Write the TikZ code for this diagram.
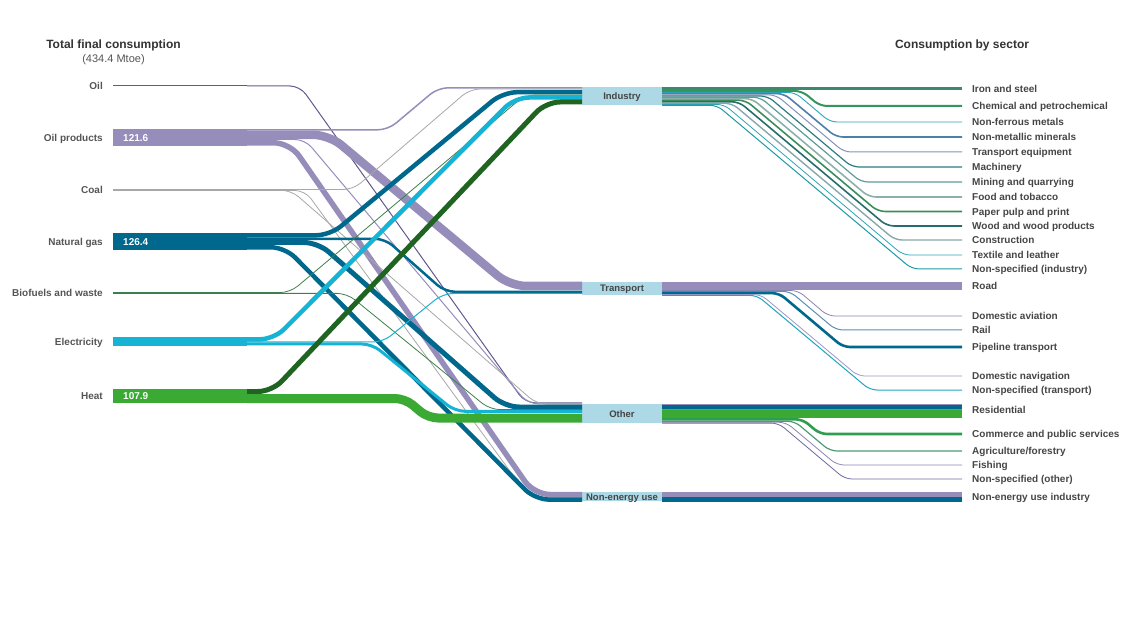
\documentclass[tikz,border=0pt]{standalone}
\usepackage{fontspec}
\setmainfont{Liberation Sans}
\usepackage{tikz}
\usetikzlibrary{positioning}

\definecolor{oilc}{HTML}{5F5A8C}
\definecolor{oilpc}{HTML}{968DBA}
\definecolor{coalc}{HTML}{A8A8A8}
\definecolor{gasc}{HTML}{00688C}
\definecolor{bioc}{HTML}{3D7F4D}
\definecolor{elecc}{HTML}{17B3D5}
\definecolor{heatc}{HTML}{3AAA35}
\definecolor{heatdk}{HTML}{1F6421}
\definecolor{boxc}{HTML}{ADD8E6}
\definecolor{lblc}{HTML}{555555}
\definecolor{secc}{HTML}{454545}
\definecolor{ironc}{HTML}{3B8A70}
\definecolor{chemc}{HTML}{35955A}
\definecolor{nferc}{HTML}{2AA5B8}
\definecolor{nmetc}{HTML}{4D7FA8}
\definecolor{treqc}{HTML}{8791B5}
\definecolor{machc}{HTML}{2C7B82}
\definecolor{minec}{HTML}{5E9C98}
\definecolor{foodc}{HTML}{8DB0AA}
\definecolor{paperc}{HTML}{3B8E5C}
\definecolor{woodc}{HTML}{276D6D}
\definecolor{constc}{HTML}{88A7AB}
\definecolor{textc}{HTML}{2BA4B4}
\definecolor{nsindc}{HTML}{1E99A6}
\definecolor{domavic}{HTML}{8A85B2}
\definecolor{railc}{HTML}{5A8EB2}
\definecolor{domnavc}{HTML}{9E98C4}
\definecolor{nstransc}{HTML}{1FA6C2}
\definecolor{commc}{HTML}{2E9E4E}
\definecolor{agric}{HTML}{4E9B72}
\definecolor{nsothc}{HTML}{6E699C}

\tikzstyle{heading} = [font=\bfseries\fontsize{12}{14}\selectfont, text=black!80, inner sep=0pt]
\tikzstyle{srclabel} = [font=\bfseries\fontsize{10}{12}\selectfont, text=lblc, inner sep=0pt, text height=7.2pt, text depth=0pt]
\tikzstyle{seclabel} = [anchor=west, font=\bfseries\fontsize{10}{12}\selectfont, text=secc, inner sep=0pt, text height=7.2pt, text depth=0pt]
\tikzstyle{bar} = [rectangle, anchor=north west, minimum width=134pt, inner sep=0pt, outer sep=0pt]
\tikzstyle{barval} = [font=\bfseries\fontsize{10}{12}\selectfont, text=white, inner sep=0pt, text height=7.2pt, text depth=0pt]
\tikzstyle{sector} = [rectangle, anchor=north west, fill=boxc, minimum width=80pt, inner sep=0pt, outer sep=0pt, text height=7pt, text depth=0pt, font=\bfseries\fontsize{9.5}{11}\selectfont, text=secc]
\tikzstyle{flowline} = [line cap=butt, rounded corners=10pt]
\tikzstyle{fanline} = [line cap=butt, rounded corners=7pt]

\begin{document}
\begin{tikzpicture}[x=1pt, y=-1pt]
\useasboundingbox (0,0) rectangle (1132,617);

\node (tfc) [heading] at (113.5,45) {Total final consumption};
\node (mtoe) [font=\fontsize{11}{13}\selectfont, text=lblc, inner sep=0pt, below=4pt of tfc] {(434.4 Mtoe)};
\node (cbs) [heading] at (962,45) {Consumption by sector};

% sources
\node (oilbar) [bar, fill=oilc, minimum height=1pt] at (113,85.5) {};
\node (opbar) [bar, fill=oilpc, minimum height=17pt] at (113,129) {};
\node (coalbar) [bar, fill=coalc, minimum height=1.2pt] at (113,189.4) {};
\node (gasbar) [bar, fill=gasc, minimum height=17pt] at (113,233) {};
\node (biobar) [bar, fill=bioc, minimum height=1.5pt] at (113,292.3) {};
\node (elecbar) [bar, fill=elecc, minimum height=9pt] at (113,337) {};
\node (heatbar) [bar, fill=heatc, minimum height=14pt] at (113,389) {};

\node (oil) [srclabel, left=10pt of oilbar] {Oil};
\node (oilp) [srclabel, left=10pt of opbar] {Oil products};
\node (coal) [srclabel, left=10pt of coalbar] {Coal};
\node (gas) [srclabel, left=10pt of gasbar] {Natural gas};
\node (bio) [srclabel, left=10pt of biobar] {Biofuels and waste};
\node (elec) [srclabel, left=10pt of elecbar] {Electricity};
\node (heat) [srclabel, left=10pt of heatbar] {Heat};

\node (opval) [barval, anchor=west] at ([xshift=10pt]opbar.west) {121.6};
\node (gasval) [barval, anchor=west] at ([xshift=10pt]gasbar.west) {126.4};
\node (heatval) [barval, anchor=west] at ([xshift=10pt]heatbar.west) {107.9};

% sectors
\node (ind) [sector, minimum height=18pt] at (582,87) {Industry};
\node (trans) [sector, minimum height=13pt] at (582,282) {Transport};
\node (other) [sector, minimum height=19pt] at (582,404) {Other};
\node (neu) [sector, minimum height=9pt] at (582,492) {Non-energy use};

% flows to sectors
\draw [flowline, oilc, line width=1pt] (oilbar.east) -- (300,86) -- (525,402.8) -- ([yshift=1.2pt]other.north west);

\draw [flowline, oilpc, line width=1.5pt] ([yshift=-0.8pt]opbar.north east) -- (388,129.8) -- (438,87.8) -- ([yshift=-0.8pt]ind.north west);
\draw [flowline, oilpc, line width=8.5pt, rounded corners=16pt] ([yshift=-5.8pt]opbar.north east) -- (329,134.8) -- (510,286) -- ([yshift=-4pt]trans.north west);
\draw [flowline, oilpc, line width=1pt] ([yshift=-10.5pt]opbar.north east) -- (305,139.5) -- (528,403.8) -- ([yshift=0.2pt]other.north west);
\draw [flowline, oilpc, line width=5.5pt, rounded corners=16pt] ([yshift=-13.8pt]opbar.north east) -- (290,142.8) -- (534,494.5) -- ([yshift=-2.5pt]neu.north west);

\draw [flowline, coalc, line width=0.8pt] ([yshift=-0.2pt]coalbar.north east) -- (353,189.6) -- (470,89) -- ([yshift=-2pt]ind.north west);
\draw [flowline, coalc, line width=0.8pt] ([yshift=-0.8pt]coalbar.north east) -- (291,190.2) -- (537,404.2) -- ([yshift=-0.2pt]other.north west);
\draw [flowline, coalc, line width=0.8pt] ([yshift=-1.1pt]coalbar.north east) -- (305,190.5) -- (529,497.2) -- ([yshift=-5.2pt]neu.north west);

\draw [flowline, gasc, line width=4.5pt, rounded corners=14pt] ([yshift=-2.3pt]gasbar.north east) -- (330,235.3) -- (503,92.2) -- ([yshift=-5.2pt]ind.north west);
\draw [flowline, gasc, line width=2.5pt] ([yshift=-5.8pt]gasbar.north east) -- (385,238.8) -- (445,291.8) -- ([yshift=-9.8pt]trans.north west);
\draw [flowline, gasc, line width=5pt, rounded corners=14pt] ([yshift=-9.5pt]gasbar.north east) -- (318,242.5) -- (505,407) -- ([yshift=-3pt]other.north west);
\draw [flowline, gasc, line width=4.5pt, rounded corners=14pt] ([yshift=-14.3pt]gasbar.north east) -- (285,247.3) -- (535,499.6) -- ([yshift=-7.6pt]neu.north west);

\draw [flowline, bioc, line width=0.8pt] ([yshift=-0.3pt]biobar.north east) -- (290,292.6) -- (525,95) -- ([yshift=-8pt]ind.north west);
\draw [flowline, bioc, line width=0.8pt] ([yshift=-1.1pt]biobar.north east) -- (347,293.4) -- (490,409.6) -- ([yshift=-5.6pt]other.north west);

\draw [flowline, elecc, line width=4.5pt, rounded corners=14pt] ([yshift=-2.3pt]elecbar.north east) -- (274,339.3) -- (515,97.5) -- ([yshift=-10.5pt]ind.north west);
\draw [flowline, elecc, line width=1pt] ([yshift=-5pt]elecbar.north east) -- (383,342) -- (443,293.5) -- ([yshift=-11.5pt]trans.north west);
\draw [flowline, elecc, line width=3pt] ([yshift=-7pt]elecbar.north east) -- (372,344) -- (455,411.3) -- ([yshift=-7.3pt]other.north west);

\draw [flowline, heatdk, line width=5pt, rounded corners=14pt] ([yshift=-2.5pt]heatbar.north east) -- (272,391.5) -- (546,102) -- ([yshift=-15pt]ind.north west);
\draw [flowline, heatc, line width=9pt] ([yshift=-9.5pt]heatbar.north east) -- (405,398.5) -- (428,418) -- ([yshift=-14pt]other.north west);

% sector labels
\node (iron) [seclabel] at (972,88.5) {Iron and steel};
\node (chem) [seclabel] at (972,106) {Chemical and petrochemical};
\node (nfer) [seclabel] at (972,122) {Non-ferrous metals};
\node (nmet) [seclabel] at (972,137) {Non-metallic minerals};
\node (treq) [seclabel] at (972,152) {Transport equipment};
\node (mach) [seclabel] at (972,167) {Machinery};
\node (mine) [seclabel] at (972,182) {Mining and quarrying};
\node (food) [seclabel] at (972,197) {Food and tobacco};
\node (paper) [seclabel] at (972,211.5) {Paper pulp and print};
\node (wood) [seclabel] at (972,226) {Wood and wood products};
\node (const) [seclabel] at (972,240) {Construction};
\node (text) [seclabel] at (972,255) {Textile and leather};
\node (nsind) [seclabel] at (972,269) {Non-specified (industry)};
\node (road) [seclabel] at (972,286) {Road};
\node (domavi) [seclabel] at (972,316) {Domestic aviation};
\node (rail) [seclabel] at (972,330) {Rail};
\node (pipe) [seclabel] at (972,347) {Pipeline transport};
\node (domnav) [seclabel] at (972,376) {Domestic navigation};
\node (nstrans) [seclabel] at (972,390) {Non-specified (transport)};
\node (resid) [seclabel] at (972,410) {Residential};
\node (comm) [seclabel] at (972,434) {Commerce and public services};
\node (agri) [seclabel] at (972,451) {Agriculture/forestry};
\node (fish) [seclabel] at (972,465) {Fishing};
\node (nsoth) [seclabel] at (972,479) {Non-specified (other)};
\node (neuind) [seclabel] at (972,497) {Non-energy use industry};

% industry
\draw [fanline, ironc, line width=3pt] ([yshift=-1.5pt]ind.north east) -- ([xshift=-10pt]iron.west);
\draw [fanline, chemc, line width=2pt] ([yshift=-4pt]ind.north east) -- (802,91) -- (820,106) -- ([xshift=-10pt]chem.west);
\draw [fanline, nferc, line width=0.9pt] ([yshift=-5.4pt]ind.north east) -- (795,92.4) -- (830,122) -- ([xshift=-10pt]nfer.west);
\draw [fanline, nmetc, line width=1.6pt] ([yshift=-6.6pt]ind.north east) -- (784,93.6) -- (836,137) -- ([xshift=-10pt]nmet.west);
\draw [fanline, treqc, line width=1pt] ([yshift=-7.9pt]ind.north east) -- (776,94.9) -- (844,152) -- ([xshift=-10pt]treq.west);
\draw [fanline, machc, line width=1.2pt] ([yshift=-9pt]ind.north east) -- (767.5,96) -- (852,167) -- ([xshift=-10pt]mach.west);
\draw [fanline, minec, line width=1.2pt] ([yshift=-10.2pt]ind.north east) -- (760,97.2) -- (861,182) -- ([xshift=-10pt]mine.west);
\draw [fanline, foodc, line width=1.6pt] ([yshift=-11.6pt]ind.north east) -- (752,98.6) -- (869,197) -- ([xshift=-10pt]food.west);
\draw [fanline, paperc, line width=1.6pt] ([yshift=-13.2pt]ind.north east) -- (745.5,100.2) -- (878,211.5) -- ([xshift=-10pt]paper.west);
\draw [fanline, woodc, line width=1.6pt] ([yshift=-14.8pt]ind.north east) -- (739,101.8) -- (887,226) -- ([xshift=-10pt]wood.west);
\draw [fanline, constc, line width=1.4pt] ([yshift=-16.3pt]ind.north east) -- (732,103.3) -- (895,240) -- ([xshift=-10pt]const.west);
\draw [fanline, textc, line width=0.8pt] ([yshift=-17.4pt]ind.north east) -- (724,104.4) -- (903,255) -- ([xshift=-10pt]text.west);
\draw [fanline, nsindc, line width=1pt] ([yshift=-18.3pt]ind.north east) -- (717,105.3) -- (912,269) -- ([xshift=-10pt]nsind.west);

% transport
\draw [fanline, oilpc, line width=8pt] ([yshift=-4pt]trans.north east) -- ([xshift=-10pt]road.west);
\draw [fanline, domavic, line width=0.8pt] ([yshift=-8.5pt]trans.north east) -- (798,290.5) -- (828,316) -- ([xshift=-10pt]domavi.west);
\draw [fanline, railc, line width=1pt] ([yshift=-9.4pt]trans.north east) -- (790,291.4) -- (836,330) -- ([xshift=-10pt]rail.west);
\draw [fanline, gasc, line width=2.6pt] ([yshift=-11.1pt]trans.north east) -- (779,293.1) -- (843,347) -- ([xshift=-10pt]pipe.west);
\draw [fanline, domnavc, line width=0.8pt] ([yshift=-12.6pt]trans.north east) -- (761,294.6) -- (858,376) -- ([xshift=-10pt]domnav.west);
\draw [fanline, nstransc, line width=1pt] ([yshift=-13.4pt]trans.north east) -- (757,295.4) -- (870,390) -- ([xshift=-10pt]nstrans.west);

% other
\draw [fanline, oilpc, line width=1.4pt] ([yshift=-0.7pt]other.north east) -- +(300,0);
\draw [fanline, gasc, line width=3.6pt] ([yshift=-3.2pt]other.north east) -- +(300,0);
\draw [fanline, elecc, line width=1pt] ([yshift=-5.5pt]other.north east) -- +(300,0);
\draw [fanline, heatc, line width=8pt] ([yshift=-10pt]other.north east) -- +(300,0);
\draw [fanline, commc, line width=2.6pt] ([yshift=-15.3pt]other.north east) -- (802.5,419.3) -- (820,434) -- ([xshift=-10pt]comm.west);
\draw [fanline, agric, line width=1.2pt] ([yshift=-17.2pt]other.north east) -- (794.5,421.2) -- (830,451) -- ([xshift=-10pt]agri.west);
\draw [fanline, domavic, line width=0.8pt] ([yshift=-18.3pt]other.north east) -- (786,422.3) -- (837,465) -- ([xshift=-10pt]fish.west);
\draw [fanline, nsothc, line width=0.8pt] ([yshift=-19.1pt]other.north east) -- (778.5,423.1) -- (845,479) -- ([xshift=-10pt]nsoth.west);

% non-energy use
\draw [fanline, oilpc, line width=5pt] ([yshift=-2.5pt]neu.north east) -- +(300,0);
\draw [fanline, gasc, line width=4.4pt] ([yshift=-7.4pt]neu.north east) -- +(300,0);

\end{tikzpicture}
\end{document}
